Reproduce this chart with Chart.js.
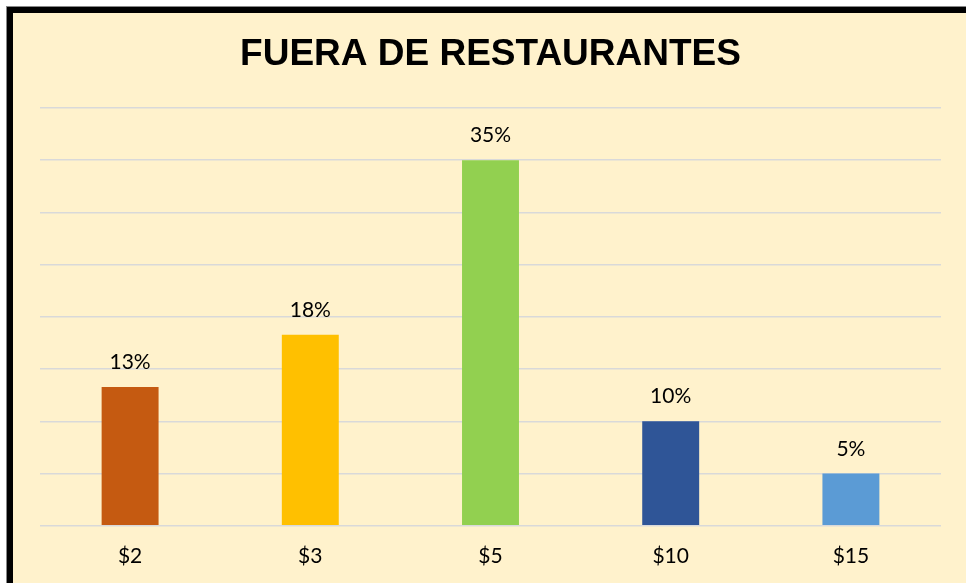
<!DOCTYPE html>
<html>
<head>
<meta charset="utf-8">
<script src="https://cdn.jsdelivr.net/npm/chart.js@4"></script>
<style>
  html, body { margin: 0; padding: 0; background: #fff; overflow: hidden; }
  #frame {
    position: absolute; left: 7px; top: 7px; width: 1000px; height: 640px;
    border-left: 6px solid #000; border-top: 6px solid #000;
    outline: 1px solid #888; background: #FFF2CC;
  }
  #wrap { position: absolute; left: 0; top: 0; width: 966px; height: 600px; }
</style>
</head>
<body>
<div id="frame"></div>
<div id="wrap"><canvas id="barChart"></canvas></div>
<script>
// Data
const categories = ['$2', '$3', '$5', '$10', '$15'];
const shares = [13.3, 18.3, 35, 10, 5];
const barColors = ['#C55A11', '#FFC000', '#92D050', '#2F5597', '#5B9BD5'];
const yTicks = [0, 5, 10, 15, 20, 25, 30, 35, 40];

const labelFont = '21px Lato';

// Value labels above each bar
const barLabels = {
    id: 'barLabels',
    afterDatasetsDraw(chart) {
        const ctx = chart.ctx;
        const meta = chart.getDatasetMeta(0);
        ctx.save();
        ctx.font = labelFont;
        ctx.fillStyle = '#000';
        ctx.textAlign = 'center';
        ctx.textBaseline = 'alphabetic';
        meta.data.forEach((bar, i) => {
            ctx.fillText(Math.round(shares[i]) + '%', bar.x, bar.y - 18);
        });
        ctx.restore();
    }
};

const ctxBar = document.getElementById('barChart').getContext('2d');
const barChart = new Chart(ctxBar, {
    type: 'bar',
    data: {
        labels: categories,
        datasets: [{
            data: shares,
            backgroundColor: barColors,
            categoryPercentage: 1,
            barPercentage: 0.316
        }]
    },
    options: {
        responsive: true,
        maintainAspectRatio: false,
        animation: false,
        layout: { padding: { left: 40, right: 25, top: 33, bottom: 13 } },
        plugins: {
            legend: { display: false },
            tooltip: { enabled: false },
            title: {
                display: true,
                text: 'FUERA DE RESTAURANTES',
                color: '#000',
                font: { family: '"Liberation Sans", Arial', size: 37, weight: 'bold' },
                padding: { top: 0, bottom: 30.6 }
            }
        },
        scales: {
            x: {
                grid: { display: false, drawTicks: false },
                border: { display: false },
                ticks: { color: '#000', font: { family: 'Lato', size: 21 }, padding: 18 }
            },
            y: {
                min: yTicks[0],
                max: yTicks[yTicks.length - 1],
                afterBuildTicks: (axis) => { axis.ticks = yTicks.map(v => ({ value: v })); },
                grid: { color: '#D9D9D9', lineWidth: 1.5, drawTicks: false },
                border: { display: false },
                ticks: { display: false }
            }
        }
    },
    plugins: [barLabels]
});
</script>
</body>
</html>
